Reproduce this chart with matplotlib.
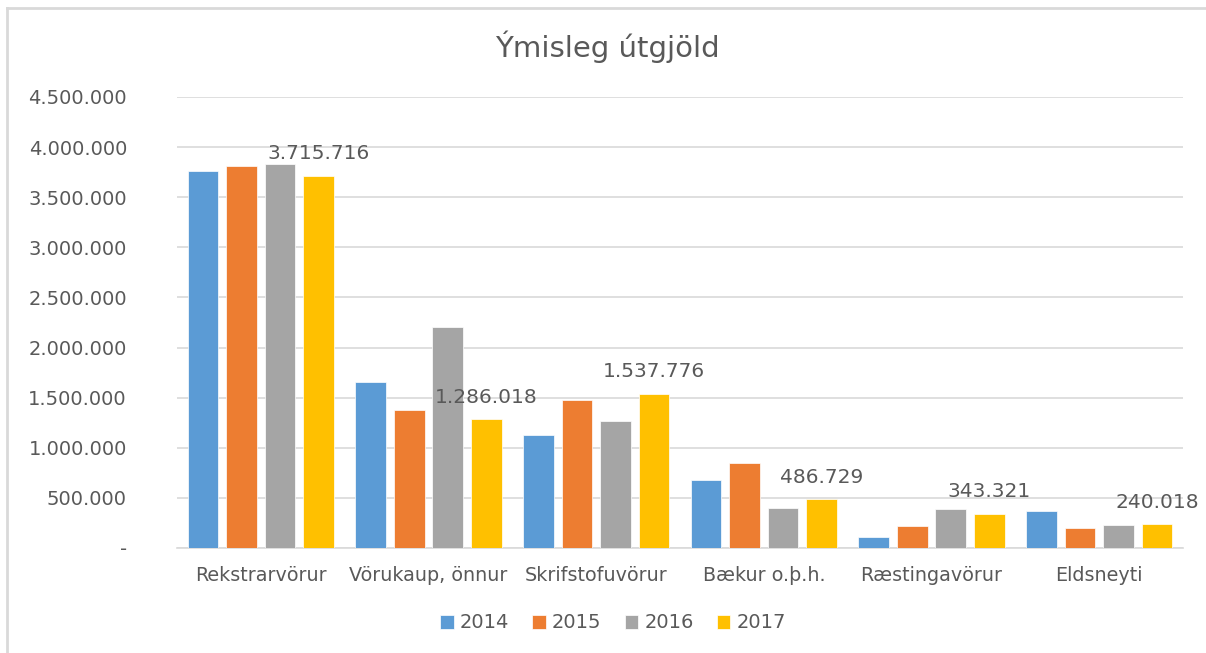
import matplotlib.pyplot as plt
from matplotlib.lines import Line2D
import numpy as np

# data
categories = ['Rekstrarvörur', 'Vörukaup, önnur', 'Skrifstofuvörur',
              'Bækur o.þ.h.', 'Ræstingavörur', 'Eldsneyti']
years = ['2014', '2015', '2016', '2017']
v2014 = [3762000, 1660000, 1125000, 679000, 107000, 369000]
v2015 = [3809000, 1377000, 1477000, 851000, 223000, 200000]
v2016 = [3832000, 2203000, 1271000, 396000, 392000, 233000]
v2017 = [3715716, 1286018, 1537776, 486729, 343321, 240018]
yticks = [0, 500000, 1000000, 1500000, 2000000, 2500000, 3000000, 3500000, 4000000, 4500000]

colors = ['#5B9BD5', '#ED7D31', '#A5A5A5', '#FFC000']
text_col = '#595959'
grid_col = '#D9D9D9'

def fmt(v):
    # icelandic thousands separator, zero shown as dash
    if v == 0:
        return '-'
    return f'{int(v):,}'.replace(',', '.')

fig = plt.figure(figsize=(12.06, 6.53), dpi=100)
ax = fig.add_axes([177 / 1206, 1 - 548 / 653, (1183 - 177) / 1206, (548 - 97) / 653])

x = np.arange(len(categories))
step = 0.2296
width = 0.182
series = [v2014, v2015, v2016, v2017]
for i, (vals, c, yr) in enumerate(zip(series, colors, years)):
    ax.bar(x + (i - 1.5) * step, vals, width, color=c, label=yr,
           edgecolor='white', linewidth=0.5, zorder=3)

# data labels only on the last series
for xi, v in zip(x, v2017):
    ax.annotate(fmt(v), (xi + 1.5 * step, v), xytext=(0, 15.8), textcoords='offset points',
                ha='center', va='center', fontsize=14.5, color=text_col, zorder=4)

ax.set_xlim(-0.5, len(categories) - 0.5)
ax.set_ylim(0, 4500000)
ax.set_yticks(yticks)
ax.set_yticklabels([fmt(t) for t in yticks])
ax.set_xticks(x)
ax.set_xticklabels(categories)
ax.tick_params(axis='y', length=0, pad=36, labelsize=14, labelcolor=text_col)
ax.tick_params(axis='x', length=0, pad=13, labelsize=13.8, labelcolor=text_col)
ax.grid(axis='y', color=grid_col, linewidth=1.2, zorder=0)
for s in ['top', 'right', 'left']:
    ax.spines[s].set_visible(False)
ax.spines['bottom'].set_color(grid_col)
ax.spines['bottom'].set_linewidth(1.2)

fig.text(0.504, 1 - 47 / 653, 'Ýmisleg útgjöld', ha='center', va='center',
         fontsize=21, color=text_col)

fig.legend(loc='center', bbox_to_anchor=(613 / 1206, 1 - 623 / 653), ncol=4, frameon=False,
           fontsize=14, labelcolor=text_col, handlelength=0.7, handleheight=0.7,
           handletextpad=0.3, columnspacing=1.2)

# chart frame (only left and top edges are visible in the crop)
fig.add_artist(Line2D([7 / 1206, 7 / 1206], [0, 1 - 8 / 653], transform=fig.transFigure,
                      color=grid_col, linewidth=2))
fig.add_artist(Line2D([7 / 1206, 1], [1 - 8 / 653, 1 - 8 / 653], transform=fig.transFigure,
                      color=grid_col, linewidth=2))

fig.savefig('out.png', dpi=100, facecolor='white')
